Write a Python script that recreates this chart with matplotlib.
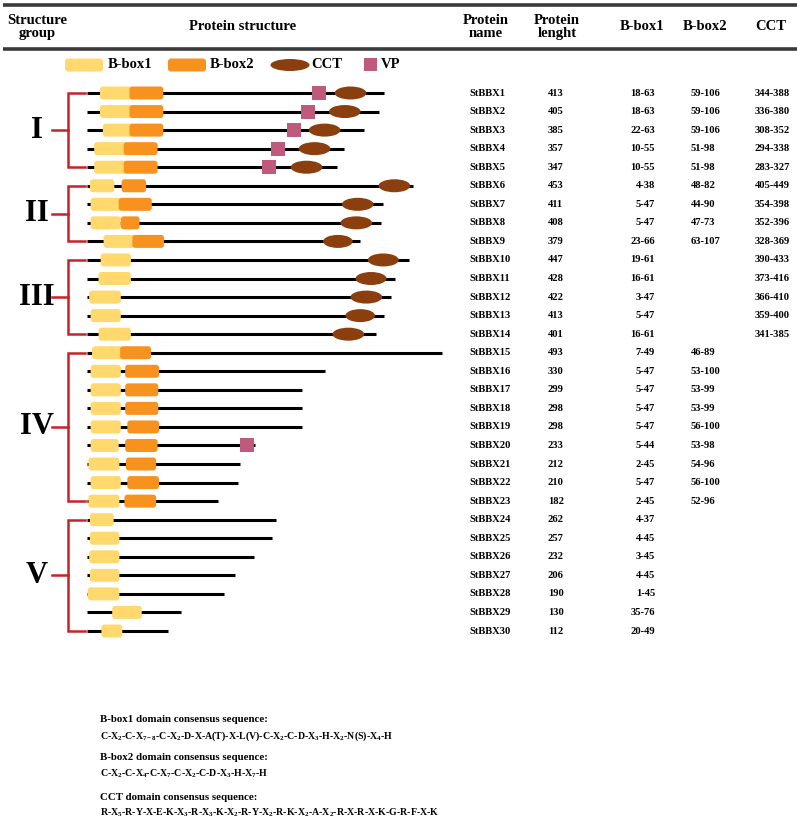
import matplotlib
matplotlib.use("Agg")
import matplotlib.pyplot as plt
from matplotlib.patches import FancyBboxPatch, Ellipse, Rectangle
from matplotlib.transforms import blended_transform_factory

plt.rcParams['font.family'] = ['Liberation Serif', 'DejaVu Serif']
plt.rcParams['font.weight'] = 'bold'
plt.rcParams['mathtext.fontset'] = 'custom'
plt.rcParams['mathtext.rm'] = 'Liberation Serif:bold'
plt.rcParams['mathtext.bf'] = 'Liberation Serif:bold'
plt.rcParams['mathtext.it'] = 'Liberation Serif:bold'
plt.rcParams['mathtext.default'] = 'rm'

# ---------------- data ----------------
names = [f"StBBX{i}" for i in range(1, 31)]
lengths = [413, 405, 385, 357, 347, 453, 411, 408, 379, 447, 428, 422, 413, 401,
           493, 330, 299, 298, 298, 233, 212, 210, 182, 262, 257, 232, 206, 190, 130, 112]
bbox1 = [(18, 63), (18, 63), (22, 63), (10, 55), (10, 55), (4, 38), (5, 47), (5, 47), (23, 66),
         (19, 61), (16, 61), (3, 47), (5, 47), (16, 61),
         (7, 49), (5, 47), (5, 47), (5, 47), (5, 47), (5, 44), (2, 45), (5, 47), (2, 45),
         (4, 37), (4, 45), (3, 45), (4, 45), (1, 45), (35, 76), (20, 49)]
bbox2 = [(59, 106), (59, 106), (59, 106), (51, 98), (51, 98), (48, 82), (44, 90), (47, 73), (63, 107),
         None, None, None, None, None,
         (46, 89), (53, 100), (53, 99), (53, 99), (56, 100), (53, 98), (54, 96), (56, 100), (52, 96),
         None, None, None, None, None, None, None]
cct = [(344, 388), (336, 380), (308, 352), (294, 338), (283, 327), (405, 449), (354, 398), (352, 396),
       (328, 369), (390, 433), (373, 416), (366, 410), (359, 400), (341, 385)] + [None] * 16
vp = {0: 322, 1: 307, 2: 287, 3: 265, 4: 253, 19: 222}   # row index -> approx. position (aa)
groups = ['I', 'II', 'III', 'IV', 'V']
group_rows = [(0, 4), (5, 8), (9, 13), (14, 22), (23, 29)]

legend_labels = ['B-box1', 'B-box2', 'CCT', 'VP']
headers = ['Protein\nname', 'Protein\nlenght', 'B-box1', 'B-box2', 'CCT']

seq_titles = ['B-box1 domain consensus sequence:', 'B-box2 domain consensus sequence:',
              'CCT domain consensus sequence:']
seqs = ['C-X$_2$-C-X$_{7-8}$-C-X$_2$-D-X-A(T)-X-L(V)-C-X$_2$-C-D-X$_3$-H-X$_2$-N(S)-X$_4$-H',
        'C-X$_2$-C-X$_4$-C-X$_7$-C-X$_2$-C-D-X$_3$-H-X$_7$-H',
        'R-X$_5$-R-Y-X-E-K-X$_3$-R-X$_3$-K-X$_2$-R-Y-X$_2$-R-K-X$_2$-A-X$_2$-R-X-R-X-K-G-R-F-X-K']

C_B1 = '#FFD86E'
C_B2 = '#F7921F'
C_CCT = '#8B3F0E'
C_VP = '#BF5A7C'
C_RED = '#C5222B'

# ---------------- figure ----------------
W, H = 797, 818
fig = plt.figure(figsize=(W / 100, H / 100), dpi=100)
ax = fig.add_axes([0, 0, 1, 1])
ax.set_xlim(0, W)
ax.set_ylim(H, 0)
ax.axis('off')

row0, row_step = 93, 538 / 29
top_px = row0 - row_step / 2
h_px = row_step * 30
left_px, w_px, xmax = 87, 720, 1000
axp = fig.add_axes([left_px / W, 1 - (top_px + h_px) / H, w_px / W, h_px / H])
axp.set_xlim(0, xmax)
axp.set_ylim(29.5, -0.5)
axp.axis('off')

xu = xmax / w_px        # aa per pixel
yu = 1 / row_step       # rows per pixel
asp = yu / xu

# header rules
for y in (5, 49):
    ax.plot([3, W], [y, y], color='#3a3a3a', lw=2.6, solid_capstyle='butt')

ax.text(37, 20, 'Structure', ha='center', va='center', fontsize=10.5)
ax.text(37, 33, 'group', ha='center', va='center', fontsize=10.5)
ax.text(243, 27, 'Protein structure', ha='center', va='center', fontsize=10.5)
hx = [486, 557, 642, 705, 771]
for x, t in zip(hx, headers):
    ax.text(x, 27, t, ha='center', va='center', fontsize=10.5, linespacing=1.0)

# legend
ly = 65
ax.add_patch(FancyBboxPatch((65, ly - 6.5), 38, 13, boxstyle='round,pad=0,rounding_size=3',
                            fc=C_B1, ec='none'))
ax.add_patch(FancyBboxPatch((168, ly - 6.5), 38, 13, boxstyle='round,pad=0,rounding_size=3',
                            fc=C_B2, ec='none'))
ax.add_patch(Ellipse((290, ly), 39, 12, fc=C_CCT, ec='none'))
ax.add_patch(Rectangle((364, ly - 7), 13, 13, fc=C_VP, ec='none'))
for x, t in zip([108, 210, 311, 381], legend_labels):
    ax.text(x, ly, t, ha='left', va='center', fontsize=10.5)

# protein diagrams
bh = 13 * yu
for i in range(30):
    L = lengths[i]
    axp.plot([0, L], [i, i], color='black', lw=2.2, solid_capstyle='butt', zorder=1)
    s, e = bbox1[i]
    axp.add_patch(FancyBboxPatch((s, i - bh / 2), e - s, bh, boxstyle='round,pad=0,rounding_size=4',
                                 mutation_aspect=asp, fc=C_B1, ec='none', zorder=2))
    if bbox2[i] is not None:
        s, e = bbox2[i]
        axp.add_patch(FancyBboxPatch((s, i - bh / 2), e - s, bh, boxstyle='round,pad=0,rounding_size=4',
                                     mutation_aspect=asp, fc=C_B2, ec='none', zorder=3))
    if i in vp:
        c = vp[i]
        axp.add_patch(Rectangle((c - 7 * xu, i - 7 * yu), 14 * xu, 14 * yu, fc=C_VP, ec='none', zorder=4))
    if cct[i] is not None:
        s, e = cct[i]
        axp.add_patch(Ellipse(((s + e) / 2, i), e - s, 13 * yu, fc=C_CCT, ec='none', zorder=4))

# brackets and group labels
xv = (68 - left_px) * xu
xt = (85 - left_px) * xu
xm = (52 - left_px) * xu
for g, (a, b) in zip(groups, group_rows):
    axp.plot([xt, xv, xv, xt], [a, a, b, b], color=C_RED, lw=1.8, clip_on=False,
             solid_joinstyle='miter')
    mid = (a + b) / 2
    axp.plot([xm, xv], [mid, mid], color=C_RED, lw=1.8, clip_on=False)
    axp.text((37 - left_px) * xu, mid, g, ha='center', va='center', fontsize=22, clip_on=False)

# table
tr = blended_transform_factory(ax.transData, axp.transData)
fs = 7.6
for i in range(30):
    ax.text(469, i, names[i], transform=tr, ha='left', va='center', fontsize=fs)
    ax.text(548, i, str(lengths[i]), transform=tr, ha='left', va='center', fontsize=fs)
    ax.text(655, i, f"{bbox1[i][0]}-{bbox1[i][1]}", transform=tr, ha='right', va='center', fontsize=fs)
    if bbox2[i] is not None:
        ax.text(691, i, f"{bbox2[i][0]}-{bbox2[i][1]}", transform=tr, ha='left', va='center', fontsize=fs)
    if cct[i] is not None:
        ax.text(755, i, f"{cct[i][0]}-{cct[i][1]}", transform=tr, ha='left', va='center', fontsize=fs)

# consensus sequences
for (ty, sy), t, s in zip([(719, 736), (758, 774), (797, 813)], seq_titles, seqs):
    ax.text(100, ty, t, ha='left', va='center', fontsize=7.8)
    ax.text(100, sy, s, ha='left', va='center', fontsize=7.1)

fig.savefig('out.png', dpi=100)
